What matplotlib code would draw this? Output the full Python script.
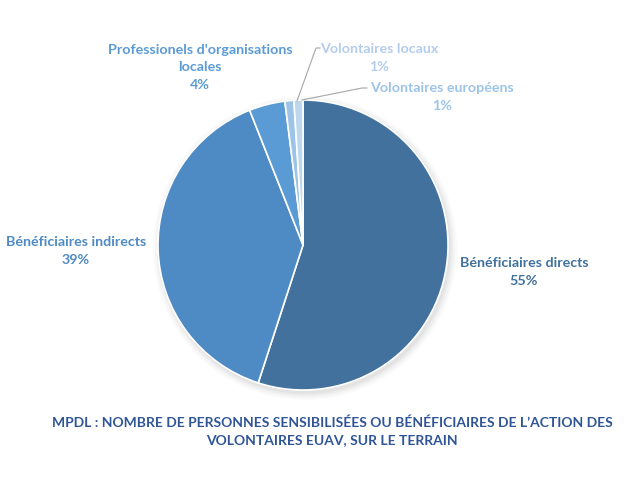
import matplotlib
matplotlib.use("Agg")
import matplotlib.pyplot as plt
from matplotlib.patches import Circle

categories = ["Bénéficiaires directs", "Bénéficiaires indirects",
              "Professionels d'organisations\nlocales", "Volontaires locaux",
              "Volontaires européens"]
values = [55, 39, 4, 1, 1]
colors = ["#41719C", "#4E8AC3", "#5B9BD5", "#9DC3E6", "#BDD7EE"]
label_colors = ["#41719C", "#4E8AC3", "#5B9BD5", "#B4CDEB", "#9DC3E6"]
title = "MPDL : NOMBRE DE PERSONNES SENSIBILISÉES OU BÉNÉFICIAIRES DE L’ACTION DES\nVOLONTAIRES EUAV, SUR LE TERRAIN"

plt.rcParams['font.family'] = ['Lato', 'DejaVu Sans']

W, H = 635, 478
fig = plt.figure(figsize=(W / 100, H / 100), dpi=100)
ax = fig.add_axes([0, 0, 1, 1])

cx, cy, r = 303, H - 245, 145

# subtle shadow
for i, a in enumerate([0.035, 0.03, 0.025, 0.02]):
    ax.add_patch(Circle((cx + 2, cy - 3), r + 1 + i * 2, color='black', alpha=a, zorder=0, lw=0))

explode = [0.025, 0, 0, 0, 0]
wedges, _ = ax.pie(values, colors=colors, startangle=90, counterclock=False,
                   center=(cx, cy), radius=r, explode=explode,
                   wedgeprops=dict(edgecolor='white', linewidth=1.2))
ax.set_xlim(0, W)
ax.set_ylim(0, H)
ax.set_aspect('equal')
ax.axis('off')

fs = 10.3
def label(x, y, txt, col):
    ax.text(x, H - y, txt, ha='center', va='center', fontsize=fs,
            fontweight='bold', color=col, linespacing=1.55)

label(524, 272, categories[0] + "\n%d%%" % values[0], label_colors[0])
label(76, 251, categories[1] + "\n%d%%" % values[1], label_colors[1])
label(200, 67, categories[2] + "\n%d%%" % values[2], label_colors[2])
label(379, 58, categories[3] + "\n%d%%" % values[3], label_colors[3])
label(442, 97, categories[4] + "\n%d%%" % values[4], label_colors[4])

# leader lines
ax.plot([297, 316, 320], [H - 101, H - 48, H - 48], color='#A6A6A6', lw=0.8)
ax.plot([302, 362, 367], [H - 100, H - 88, H - 88], color='#A6A6A6', lw=0.8)

ax.text(332, H - 431, title, ha='center', va='center', fontsize=10,
        fontweight='bold', color='#2F5597', linespacing=1.5)

fig.savefig("out.png", dpi=100)
